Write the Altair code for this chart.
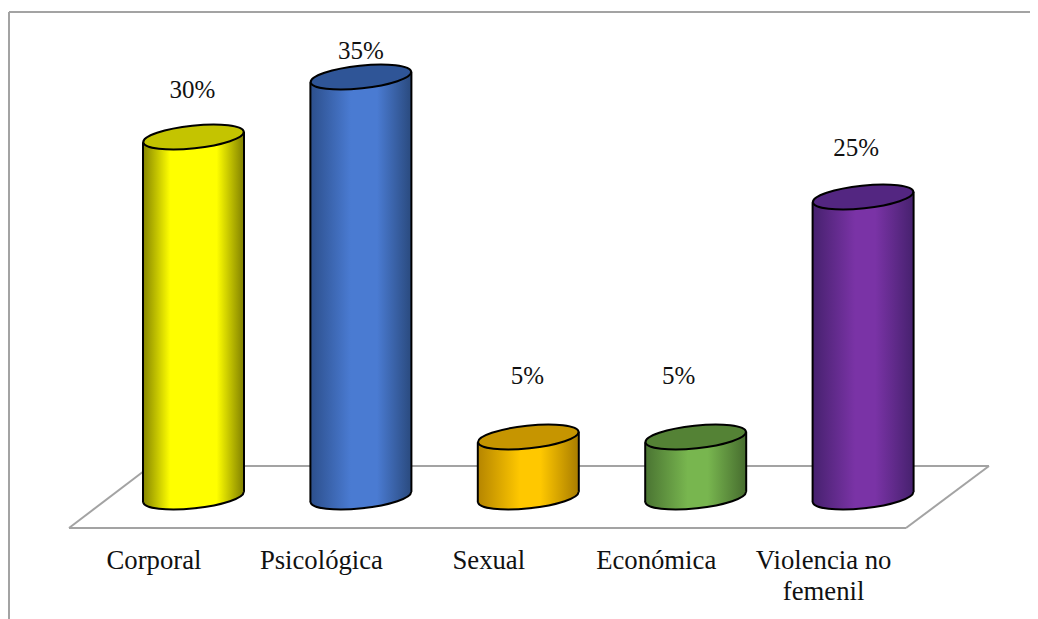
import altair as alt
import pandas as pd

categories = ["Corporal", "Psicológica", "Sexual", "Económica", "Violencia no femenil"]
values = [30, 35, 5, 5, 25]
value_labels = ["30%", "35%", "5%", "5%", "25%"]

# style tables (colours and manual label nudges), not data
side_stops = [
    ["#858500", "#ffff00", "#ffff00", "#808000"],
    ["#2c4f8c", "#4a7bd2", "#4a7bd2", "#2a4a7e"],
    ["#b58500", "#ffc800", "#ffc800", "#a87c00"],
    ["#4a7432", "#78b64f", "#78b64f", "#466c2e"],
    ["#46216e", "#7a33a6", "#7a33a6", "#46216e"],
]
stop_offsets = [(0.27, 0.73), (0.40, 0.66), (0.42, 0.62), (0.42, 0.62), (0.42, 0.62)]
top_fill = ["#c4c400", "#2f5597", "#c69500", "#548235", "#532681"]
nudge_dx = [-1, 0, -1, -17, -7]
nudge_dy = [-47, -26, -61, -61, -49]

W, H = 1022, 611
PX_PER_PCT = 12.0
PX_PER_IDX = 167.4
ZERO_Y = 489.0
FIRST_X = 185.5
HALF_W = 50.5 / PX_PER_IDX
TILT = 5.3 / PX_PER_PCT
ELLIPSE = "M -0.995 0.105 A 1 0.225 -6 1 1 0.995 -0.105 A 1 0.225 -6 1 1 -0.995 0.105 Z"
ELLIPSE_SIZE = 101 * 101

x_scale = alt.Scale(domain=[-FIRST_X / PX_PER_IDX, (W - FIRST_X) / PX_PER_IDX], nice=False, zero=False)
y_scale = alt.Scale(domain=[-(H - ZERO_Y) / PX_PER_PCT, ZERO_Y / PX_PER_PCT], nice=False, zero=False)
X_AXIS = alt.Axis(
    values=list(range(len(categories))),
    labelExpr="datum.value == 4 ? ['Violencia no', 'femenil'] : "
              + str(categories[:4]) + "[datum.value]",
    title=None, grid=False, domain=False, ticks=False,
    labelFont="Liberation Serif", labelFontSize=26.7, labelColor="#111111",
    labelOffset=-40, labelPadding=0, labelBaseline="top", labelLineHeight=31,
    labelOverlap=False, labelLimit=400, labelFlush=False, offset=-72,
)


def rule(x, y, x2, y2, color="#a3a3a3", width=2):
    return alt.Chart(pd.DataFrame({"a": [0]})).mark_rule(color=color, strokeWidth=width).encode(
        x=alt.value(x - 8), y=alt.value(y - 8), x2=alt.value(x2 - 8), y2=alt.value(y2 - 8)
    )


def grad(stops, offsets):
    return alt.Gradient(
        gradient="linear", x1=0, x2=1, y1=0, y2=0,
        stops=[
            alt.GradientStop(color=stops[0], offset=0),
            alt.GradientStop(color=stops[1], offset=offsets[0]),
            alt.GradientStop(color=stops[2], offset=offsets[1]),
            alt.GradientStop(color=stops[3], offset=1),
        ],
    )


layers = [
    rule(9, 12, 1030, 12),
    rule(9, 12, 9, 619),
    rule(69, 528, 906, 528),
    rule(150, 466, 989, 466),
    rule(69, 528, 144, 471),
    rule(906, 528, 989, 466),
]

for i, (cat, v, lab) in enumerate(zip(categories, values, value_labels)):
    g = grad(side_stops[i], stop_offsets[i])
    body = pd.DataFrame({
        "x": [i - HALF_W, i + HALF_W],
        "top": [v - TILT, v + TILT],
        "bottom": [-TILT, TILT],
    })
    point = pd.DataFrame({"x": [i], "v": [v], "zero": [0], "lab": [lab]})
    xq = alt.X("x:Q", scale=x_scale, axis=X_AXIS)

    layers.append(alt.Chart(point).mark_point(
        shape=ELLIPSE, size=ELLIPSE_SIZE, filled=True, fill=g, stroke="#000000", strokeWidth=2, opacity=1
    ).encode(x=xq, y=alt.Y("zero:Q", scale=y_scale, axis=None)))

    layers.append(alt.Chart(body).mark_area(fill=g, orient="vertical", opacity=1, interpolate="linear").encode(
        x=xq, y=alt.Y("top:Q", scale=y_scale, axis=None), y2="bottom:Q"
    ))

    layers.append(alt.Chart(body).mark_rule(color="#000000", strokeWidth=2).encode(
        x=xq, y=alt.Y("top:Q", scale=y_scale, axis=None), y2="bottom:Q"
    ))

    layers.append(alt.Chart(point).mark_point(
        shape=ELLIPSE, size=ELLIPSE_SIZE, filled=True, fill=top_fill[i], stroke="#000000", strokeWidth=2, opacity=1
    ).encode(x=xq, y=alt.Y("v:Q", scale=y_scale, axis=None)))

    layers.append(alt.Chart(point).mark_text(
        font="Liberation Serif", fontSize=25, color="#111111", baseline="middle", align="center",
        dx=nudge_dx[i], dy=nudge_dy[i]
    ).encode(x=xq, y=alt.Y("v:Q", scale=y_scale, axis=None), text="lab:N"))

chart = alt.layer(*layers).properties(
    width=W, height=H, padding=0, autosize=alt.AutoSizeParams(type="none"), background="#ffffff"
).configure_view(strokeWidth=0)

chart.save("out.html", embed_options={"renderer": "svg", "actions": False})
